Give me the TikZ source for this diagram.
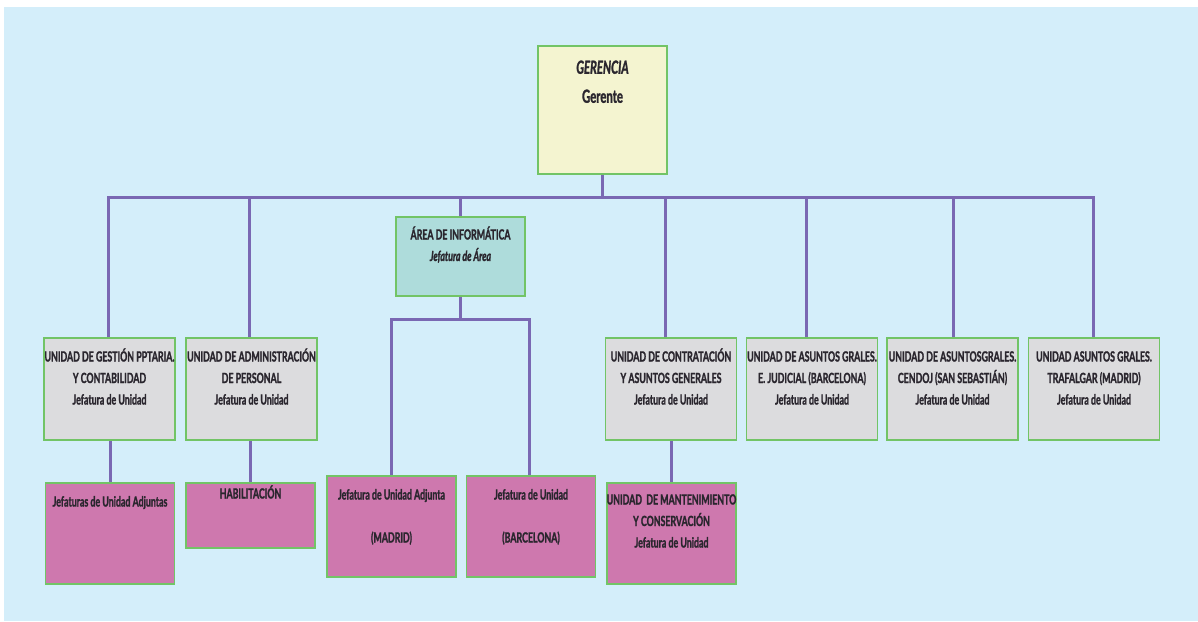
\documentclass[tikz,border=0pt]{standalone}
\usepackage{fontspec}
\setsansfont{Lato}[FakeStretch=0.63,BoldFeatures={FakeBold=1.5},BoldItalicFeatures={FakeBold=1.5}]
\usetikzlibrary{positioning}

\definecolor{bgblue}{HTML}{D4EEFA}
\definecolor{linkpurple}{HTML}{7A68B3}
\definecolor{boxgreen}{HTML}{72C466}
\definecolor{gerfill}{HTML}{F4F4D0}
\definecolor{areafill}{HTML}{AEDCDB}
\definecolor{unitfill}{HTML}{DCDCDE}
\definecolor{subfill}{HTML}{CE78AE}
\definecolor{txtgray}{HTML}{2A262E}

\begin{document}
\begin{tikzpicture}[
    x=1pt, y=-1pt,
    font=\sffamily\bfseries,
    box/.style={draw=boxgreen,line width=1.5pt,minimum width=129pt,inner sep=0pt},
    topbox/.style={box,fill=gerfill,minimum height=128pt},
    areabox/.style={box,fill=areafill,minimum height=79pt},
    unitbox/.style={box,fill=unitfill,minimum width=131pt,minimum height=102pt},
    subbox/.style={box,fill=subfill},
    boxtext/.style={txtgray,anchor=north,align=center,inner sep=0pt,
      font=\sffamily\bfseries\fontsize{14}{21.5}\selectfont},
    link/.style={linkpurple,line width=3pt},
  ]
  \useasboundingbox (0,0) rectangle (1198,621);
  \fill[bgblue] (4,7) rectangle (1198,621);

  \coordinate (bar) at (0,197);
  \coordinate (sub) at (0,319);

  % Boxes
  \node[topbox] (ger) at (602.5,110) {};
  \node[areabox] (area) at (460.5,256.5) {};
  \foreach \name/\x in {u1/109.5, u2/251.5, u3/671, u4/812, u5/952.5, u6/1094}
    \node[unitbox] (\name) at (\x,389) {};
  \foreach \name/\x/\y/\h in {p1/110/533.5/101, p2/250.5/515.5/65,
                              p3/391.5/526.5/101, p4/531/526.5/101,
                              p5/671.5/533.5/101}
    \node[subbox,minimum height=\h pt] (\name) at (\x,\y) {};

  % Main bar
  \draw[link] ([xshift=-1.5pt] u1.north) |- ([xshift=-1pt] u6.north |- bar)
    -- ([xshift=-1pt] u6.north);
  \draw[link] (ger.south) -- (ger.south |- bar);
  \draw[link] (area.north) -- (area.north |- bar);
  \foreach \name/\dx in {u2/-2.5, u3/-6, u4/-6, u5/0.5}
    \draw[link] ([xshift=\dx pt] \name.north) -- ([xshift=\dx pt] \name.north |- bar);

  % Informatica branch
  \draw[link] (area.south) -- (area.south |- sub);
  \draw[link] (p3.north) |- ([xshift=-2pt] p4.north |- sub)
    -- ([xshift=-2pt] p4.north);

  % Lower units
  \foreach \up/\down in {u1/p1, u2/p2, u3/p5}
    \draw[link] (\down.north |- \up.south) -- (\down.north);

  % Texts
  \node[boxtext,font=\sffamily\bfseries\fontsize{18}{29}\selectfont,
    below=8pt of ger.north] (gert) {\strut\textit{GERENCIA}\\Gerente};
  \node[boxtext,below=8pt of area.north] (areat)
    {\strut ÁREA DE INFORMÁTICA\\\textit{Jefatura de Área}};
  \foreach \name/\text in {u1/UNIDAD DE GESTIÓN PPTARIA.\\Y CONTABILIDAD,
                           u2/UNIDAD DE ADMINISTRACIÓN\\DE PERSONAL,
                           u3/UNIDAD DE CONTRATACIÓN\\Y ASUNTOS GENERALES,
                           u4/UNIDAD DE ASUNTOS GRALES.\\E. JUDICIAL (BARCELONA),
                           u5/UNIDAD DE ASUNTOSGRALES.\\CENDOJ (SAN SEBASTIÁN),
                           u6/UNIDAD ASUNTOS GRALES.\\TRAFALGAR (MADRID)}
    \node[boxtext,below=9pt of \name.north] (\name t)
      {\strut\text\\Jefatura de Unidad};
  \node[boxtext,below=9pt of p1.north] (p1t) {\strut Jefaturas de Unidad Adjuntas};
  \node[boxtext,below=1pt of p2.north] (p2t) {\strut HABILITACIÓN};
  \node[boxtext,below=9pt of p3.north] (p3t)
    {\strut Jefatura de Unidad Adjunta\\[21.5pt](MADRID)};
  \node[boxtext,below=9pt of p4.north] (p4t)
    {\strut Jefatura de Unidad\\[21.5pt](BARCELONA)};
  \node[boxtext,below=7pt of p5.north] (p5t)
    {\strut UNIDAD~ DE MANTENIMIENTO\\Y CONSERVACIÓN\\Jefatura de Unidad};
\end{tikzpicture}
\end{document}
